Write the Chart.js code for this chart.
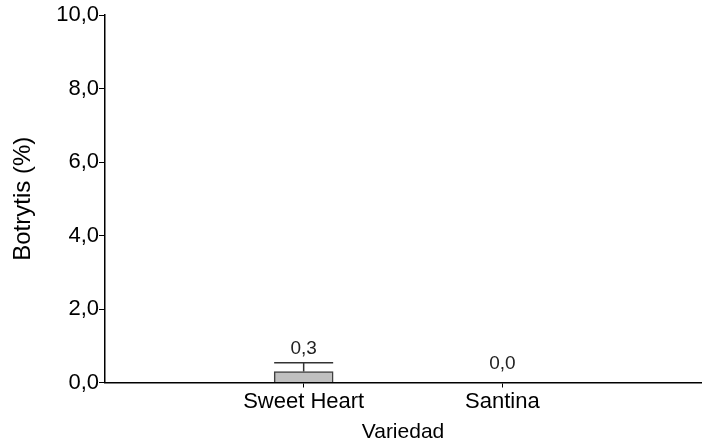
<!DOCTYPE html>
<html>
<head>
<meta charset="utf-8">
<script src="https://cdn.jsdelivr.net/npm/chart.js@4"></script>
<style>
    html, body { margin: 0; padding: 0; background: #fff; }
    #wrap { width: 702px; height: 446px; }
</style>
</head>
<body>
<div id="wrap"><canvas id="chart"></canvas></div>
<script>
const categories = ['Sweet Heart', 'Santina'];
const values = [0.3, 0.0];
const errors = [0.24, 0];
const valueLabels = ['0,3', '0,0'];
const yTicks = [0, 2, 4, 6, 8, 10];

// blank slots either side so the two bars sit at 1/3 and 2/3 of the axis
const labels = ['', ...categories, ''];
const padded = [null, ...values, null];

const FONT = 'Liberation Sans, Arial, sans-serif';

const errorBars = {
    id: 'errorBars',
    afterDatasetsDraw(chart) {
        const ctx = chart.ctx;
        const y = chart.scales.y;
        const meta = chart.getDatasetMeta(0);
        ctx.save();
        categories.forEach((cat, i) => {
            const bar = meta.data[i + 1];
            const half = bar.width / 2;
            const top = y.getPixelForValue(values[i] + errors[i]);
            if (errors[i] > 0) {
                ctx.strokeStyle = '#333';
                ctx.lineWidth = 1.5;
                ctx.beginPath();
                ctx.moveTo(bar.x, bar.y);
                ctx.lineTo(bar.x, top);
                ctx.moveTo(bar.x - half, top);
                ctx.lineTo(bar.x + half, top);
                ctx.stroke();
            }
            ctx.fillStyle = '#222';
            ctx.font = '19px ' + FONT;
            ctx.textAlign = 'center';
            ctx.textBaseline = 'alphabetic';
            const gap = errors[i] > 0 ? 9 : 14;
            ctx.fillText(valueLabels[i], bar.x, top - gap);
        });
        ctx.restore();
    }
};

new Chart(document.getElementById('chart'), {
    type: 'bar',
    data: {
        labels: labels,
        datasets: [{
            data: padded,
            backgroundColor: '#c0c0c0',
            borderColor: '#404040',
            borderWidth: 1.5,
            barThickness: 59
        }]
    },
    options: {
        responsive: true,
        maintainAspectRatio: false,
        animation: false,
        layout: { padding: { top: 15, right: 0, left: 0, bottom: 0 } },
        plugins: {
            legend: { display: false },
            tooltip: { enabled: false }
        },
        scales: {
            x: {
                offset: false,
                afterFit: (s) => { s.height = 63.5; },
                border: { color: '#000', width: 1.5 },
                grid: {
                    offset: false,
                    drawOnChartArea: false,
                    color: (c) => labels[c.index] ? '#000' : 'rgba(0,0,0,0)',
                    tickLength: 5,
                    lineWidth: 1
                },
                ticks: { color: '#000', font: { family: FONT, size: 22 }, padding: 1, maxRotation: 0, autoSkip: false },
                title: { display: true, text: 'Variedad', color: '#000', font: { family: FONT, size: 21 }, padding: { top: 0, bottom: 1 } }
            },
            y: {
                min: 0,
                max: 10,
                afterFit: (s) => { s.width = 105; },
                afterBuildTicks: (s) => { s.ticks = yTicks.map(v => ({ value: v })); },
                border: { color: '#000', width: 1.5 },
                grid: { drawOnChartArea: false, color: '#000', tickLength: 6, lineWidth: 1 },
                ticks: {
                    color: '#000',
                    font: { family: FONT, size: 22 },
                    padding: 0,
                    callback: (v) => v.toFixed(1).replace('.', ',')
                },
                title: { display: true, text: 'Botrytis (%)', color: '#000', font: { family: FONT, size: 24 }, padding: { top: 9, bottom: 0 } }
            }
        }
    },
    plugins: [errorBars]
});
</script>
</body>
</html>
